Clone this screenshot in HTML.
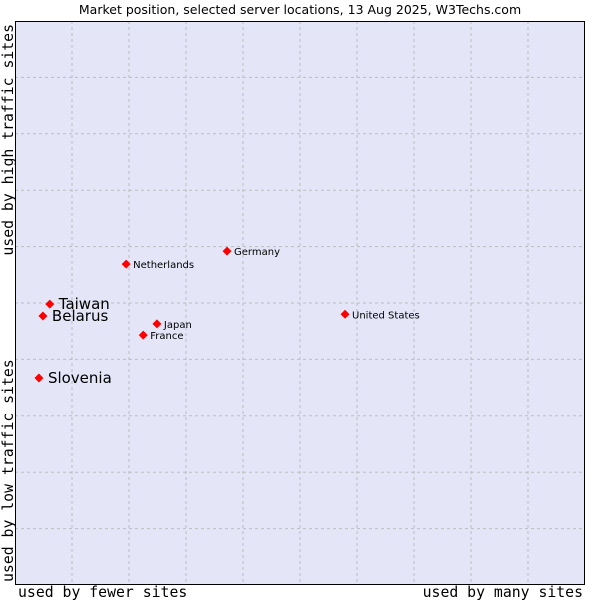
<!DOCTYPE html>
<html><head><meta charset="utf-8"><style>
body{margin:0;background:#fff;}
svg{display:block;font-family:"DejaVu Sans","Liberation Sans",sans-serif;}
.mono{font-family:"DejaVu Sans Mono","Liberation Mono",monospace;font-size:14.8px;fill:#000;}
</style></head><body>
<svg id="chart" width="600" height="600" viewBox="0 0 600 600">
<text x="300" y="14" text-anchor="middle" font-size="12.5" fill="#000">Market position, selected server locations, 13 Aug 2025, W3Techs.com</text>
<rect x="15" y="21" width="570" height="564" fill="#e4e6f8"/>
<g id="grid"></g>
<rect x="15.5" y="21.5" width="569" height="563" fill="none" stroke="#000" stroke-width="1"/>
<g id="points"></g>
<text class="mono" x="18" y="597">used by fewer sites</text>
<text class="mono" x="583" y="597" text-anchor="end">used by many sites</text>
<text class="mono" transform="translate(13,24) rotate(-90)" text-anchor="end">used by high traffic sites</text>
<text class="mono" transform="translate(13,582) rotate(-90)">used by low traffic sites</text>
</svg>
<script>
const countries=["Taiwan","Belarus","Slovenia","Netherlands","Germany","Japan","France","United States"];
const xValues=[6.1,4.9,4.2,19.5,37.2,24.9,22.5,57.9];
const yValues=[49.8,47.7,36.7,56.9,59.2,46.3,44.3,48.0];
const bigLabel=[true,true,true,false,false,false,false,false];
const NS="http://www.w3.org/2000/svg";
const L=15,T=21,W=570,H=564;
const sx=v=>L+v/100*W, sy=v=>T+H-v/100*H;
const grid=document.getElementById('grid');
for(let i=1;i<10;i++){
  const vx=document.createElementNS(NS,'line');
  
  
  vx.setAttribute('x1',sx(i*10));vx.setAttribute('x2',sx(i*10));vx.setAttribute('y1',T);vx.setAttribute('y2',T+H);
  vx.setAttribute('stroke','#bdbdbd');vx.setAttribute('stroke-dasharray','3,3');grid.appendChild(vx);
  const hy=document.createElementNS(NS,'line');
  
  
  hy.setAttribute('y1',sy(i*10));hy.setAttribute('y2',sy(i*10));hy.setAttribute('x1',L);hy.setAttribute('x2',L+W);
  hy.setAttribute('stroke','#bdbdbd');hy.setAttribute('stroke-dasharray','3,3');grid.appendChild(hy);
}
const pts=document.getElementById('points');
countries.forEach((c,i)=>{
  const x=sx(xValues[i]),y=sy(yValues[i]);
  const m=document.createElementNS(NS,'polygon');
  
  
  m.setAttribute('points',`${x},${y-4.5} ${x+4.5},${y} ${x},${y+4.5} ${x-4.5},${y}`);
  m.setAttribute('fill','#ff0000');pts.appendChild(m);
  const t=document.createElementNS(NS,'text');
  
  
  const big=bigLabel[i];
  t.setAttribute('x',x+(big?9:7));t.setAttribute('y',y+(big?5:4));
  t.setAttribute('font-size',big?15:10);t.setAttribute('fill','#000');
  t.textContent=c;pts.appendChild(t);
});
</script>
</body></html>
